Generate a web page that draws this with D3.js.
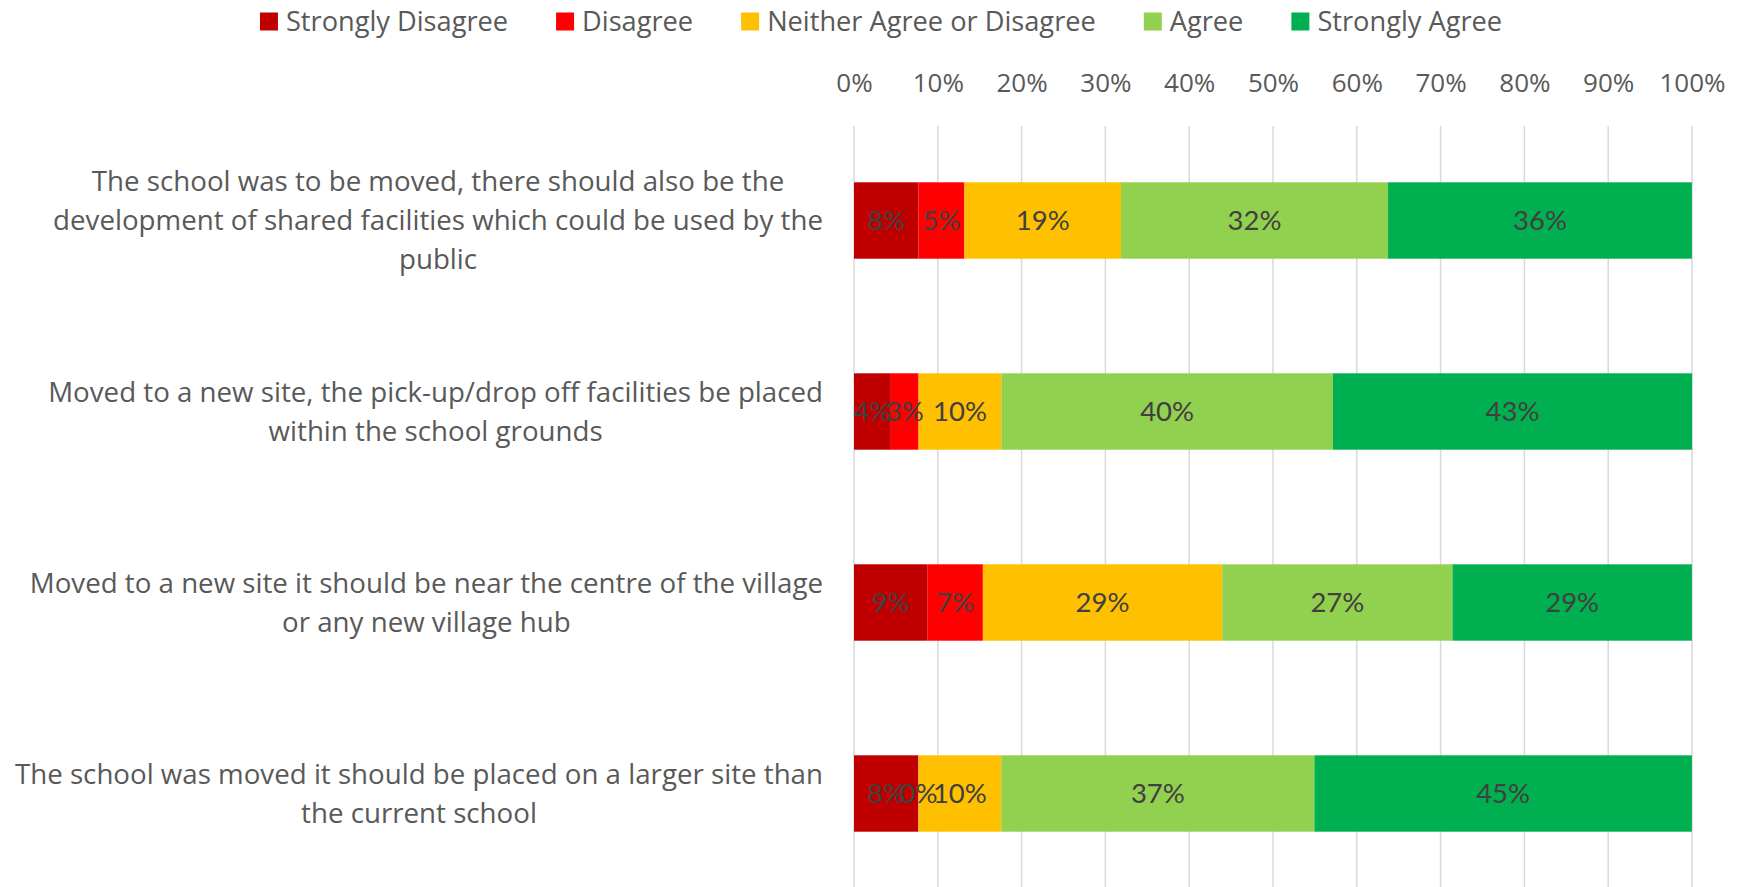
<!DOCTYPE html>
<html>
<head>
<meta charset="utf-8">
<script src="https://cdn.jsdelivr.net/npm/d3@7"></script>
<style>
  html, body { margin: 0; padding: 0; background: #fff; }
  svg { display: block; }
</style>
</head>
<body>
<div id="chart"></div>
<script>
// Statements (pre-wrapped the way the original chart wraps them)
const categories = [
  ["The school was to be moved, there should also be the",
   "development of shared facilities which could be used by the",
   "public"],
  ["Moved to a new site, the pick-up/drop off facilities be placed",
   "within the school grounds"],
  ["Moved to a new site it should be near the centre of the village",
   "or any new village hub"],
  ["The school was moved it should be placed on a larger site than",
   "the current school"],
];

const seriesNames = [
  "Strongly Disagree",
  "Disagree",
  "Neither Agree or Disagree",
  "Agree",
  "Strongly Agree",
];

// percentages per statement, one array per response
const stronglyDisagree = [7.69, 4.40, 8.79, 7.69];
const disagree = [5.49, 3.30, 6.59, 0];
const neither = [18.68, 9.89, 28.57, 9.89];
const agree = [31.87, 39.56, 27.47, 37.36];
const stronglyAgree = [36.26, 42.86, 28.57, 45.05];

const tickValues = [0, 10, 20, 30, 40, 50, 60, 70, 80, 90, 100];

const seriesColors = ["#C00000", "#FF0000", "#FFC000", "#92D050", "#00B050"];

const W = 1746;
const H = 887;
const margin = { top: 125, right: 54, bottom: -2, left: 854 };
const labelFont = "'Open Sans', sans-serif";

const series = [stronglyDisagree, disagree, neither, agree, stronglyAgree];
const rows = categories.map((c, i) => {
  const r = { idx: i };
  seriesNames.forEach((s, j) => (r[s] = series[j][i]));
  return r;
});

const svg = d3
  .select("#chart")
  .append("svg")
  .attr("width", W)
  .attr("height", H);

const x = d3
  .scaleLinear()
  .domain([0, 100])
  .range([margin.left, W - margin.right]);

const y = d3
  .scaleBand()
  .domain(categories.map((_, i) => i))
  .range([margin.top, H - margin.bottom])
  .paddingInner(0.6)
  .paddingOuter(0.3);

// Gridlines
svg
  .append("g")
  .selectAll("line")
  .data(tickValues)
  .join("line")
  .attr("x1", (d) => x(d))
  .attr("x2", (d) => x(d))
  .attr("y1", margin.top + 1)
  .attr("y2", H)
  .attr("stroke", "#D9D9D9")
  .attr("stroke-width", 1.5);

// Top axis labels
svg
  .append("g")
  .attr("transform", `translate(0,${margin.top})`)
  .call(
    d3
      .axisTop(x)
      .tickValues(tickValues)
      .tickSize(0)
      .tickPadding(33)
      .tickFormat((d) => d + "%")
  )
  .call((g) => {
    g.select(".domain").remove();
    g.selectAll(".tick text")
      .attr("fill", "#595959")
      .style("font-family", labelFont)
      .style("font-size", "26px");
  });

// Stacked bars
const stack = d3.stack().keys(seriesNames)(rows);

const layers = svg
  .append("g")
  .selectAll("g")
  .data(stack)
  .join("g")
  .attr("fill", (d, i) => seriesColors[i]);

layers
  .selectAll("rect")
  .data((d) => d)
  .join("rect")
  .attr("x", (d) => x(d[0]))
  .attr("y", (d) => y(d.data.idx))
  .attr("width", (d) => x(d[1]) - x(d[0]))
  .attr("height", y.bandwidth());

// Data labels
const fmt = (v) => Math.round(v) + "%";
svg
  .append("g")
  .selectAll("g")
  .data(stack)
  .join("g")
  .selectAll("text")
  .data((d) => d)
  .join("text")
  .attr("x", (d) => (x(d[0]) + x(d[1])) / 2)
  .attr("y", (d) => y(d.data.idx) + y.bandwidth() / 2)
  .attr("dy", "0.36em")
  .attr("text-anchor", "middle")
  .attr("fill", "#404040")
  .style("font-family", "Lato, sans-serif")
  .style("font-size", "27.5px")
  .text((d) => fmt(d[1] - d[0]));

// Category labels: block right-aligned to the plot, lines centred in the block
const lineH = 39;
const labelRight = 823;
const catG = svg.append("g");
categories.forEach((lines, i) => {
  const g = catG.append("g");
  const texts = g
    .selectAll("text")
    .data(lines)
    .join("text")
    .attr("fill", "#595959")
    .style("font-family", labelFont)
    .style("font-size", "27.7px")
    .attr("text-anchor", "middle")
    .attr("dy", "0.36em")
    .text((d) => d);
  let maxW = 0;
  texts.each(function () {
    maxW = Math.max(maxW, this.getComputedTextLength());
  });
  const cy = y(i) + y.bandwidth() / 2;
  texts
    .attr("x", labelRight - maxW / 2)
    .attr("y", (d, k) => cy + (k - (lines.length - 1) / 2) * lineH);
});

// Legend
const legend = svg.append("g");
const items = legend
  .selectAll("g")
  .data(seriesNames)
  .join("g");
items
  .append("rect")
  .attr("width", 18)
  .attr("height", 18)
  .attr("y", 12.5)
  .attr("fill", (d, i) => seriesColors[i]);
items
  .append("text")
  .attr("x", 26)
  .attr("y", 30.5)
  .attr("fill", "#595959")
  .style("font-family", labelFont)
  .style("font-size", "27.2px")
  .text((d) => d);

let offset = 0;
const positions = [];
items.each(function () {
  const w = 26 + d3.select(this).select("text").node().getComputedTextLength();
  positions.push(offset);
  offset += w + 48;
});
const total = offset - 48;
const startX = 881 - total / 2;
items.attr("transform", (d, i) => `translate(${startX + positions[i]},0)`);
</script>
</body>
</html>
